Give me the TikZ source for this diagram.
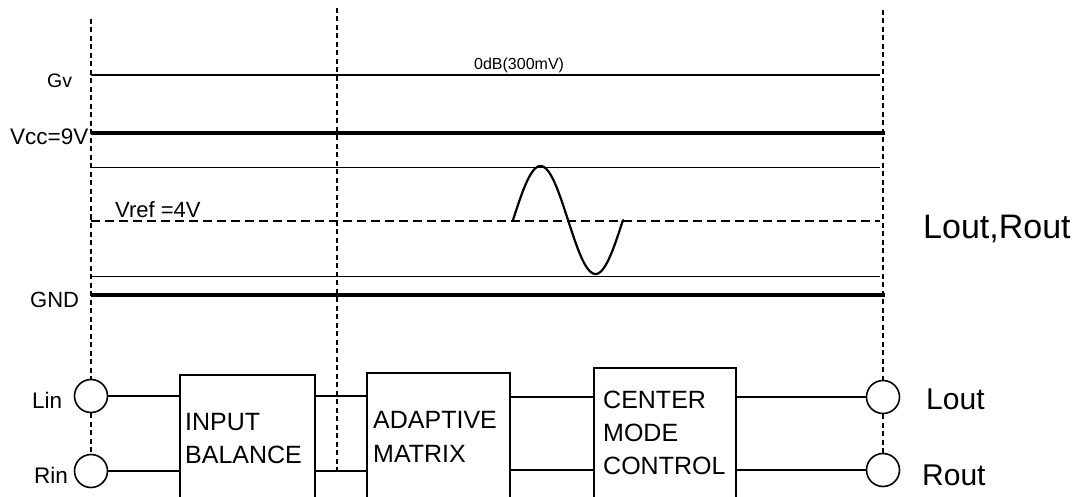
\documentclass[tikz,border=0pt]{standalone}
\usepackage{fontspec}
\setmainfont{Liberation Sans}
\begin{document}
\begin{tikzpicture}[x=1pt,y=-1pt,
  lbl/.style={inner sep=0pt,anchor=base west,font=\fontsize{#1}{#1}\selectfont},
  vdash/.style={line width=1.8pt,dash pattern=on 5pt off 3.5pt},
  hthin/.style={line width=1pt},
  hmid/.style={line width=1.8pt},
  hthick/.style={line width=3.8pt},
  hdash/.style={line width=1.6pt,dash pattern=on 9pt off 5pt},
  blk/.style={draw,line width=2pt,inner sep=0pt,anchor=north west},
  port/.style={draw,circle,line width=1.6pt,minimum size=33pt,inner sep=0pt,fill=white},
  wire/.style={line width=2pt},
  sine/.style={line width=2.2pt,line cap=round}]
\useasboundingbox (0,0) rectangle (1089,497);
\clip (0,0) rectangle (1089,497);
% vertical dashed guides
\coordinate (lt) at (91,19);
\coordinate (mt) at (337,8);
\coordinate (mb) at (337,472);
\coordinate (rt) at (883,10);
% ports
\node[port] (lin) at (91,396) {};
\node[port] (rin) at (91,471) {};
\node[port] (lout) at (883,397) {};
\node[port] (rout) at (883,470) {};
\draw[vdash] (lt) -- (lin.north);
\draw[vdash] (lin.south) -- (rin.north);
\draw[vdash] (mt) -- (mb);
\draw[vdash] (rt) -- (lout.north);
\draw[vdash] (lout.south) -- (rout.north);
% level lines
\draw[hmid] (91,75) -- (880,75);
\draw[hthick] (91,133) -- (885,133);
\draw[hthin] (91,168) -- (880,168);
\draw[hdash] (91,221) -- (880,221);
\draw[hthin] (91,276) -- (880,276);
\draw[hthick] (91,295) -- (885,295);
% sine
\draw[sine] plot[domain=0:110,samples=80,smooth] ({513+\x},{220-54*sin(\x/110*360)});
% level labels
\node[lbl=19.5] (gv) at (47,88) {Gv};
\node[lbl=22.5] (vcc) at (10,145) {Vcc=9V};
\node[lbl=22] (vref) at (115,217) {Vref =4V};
\node[lbl=22] (gnd) at (30,307) {GND};
\node[lbl=16] (odb) at (474,70) {0dB(300mV)};
\node[lbl=34] (lr) at (923,238) {Lout,Rout};
% blocks
\node[blk,minimum width=135pt,minimum height=150pt] (ib) at (179,374) {};
\node[blk,minimum width=143pt,minimum height=150pt] (am) at (366,372) {};
\node[blk,minimum width=142pt,minimum height=150pt] (cmc) at (593,367) {};
\node[lbl=25] (ibt1) at (185,430) {INPUT};
\node[lbl=25] (ibt2) at (185,463) {BALANCE};
\node[lbl=25] (amt1) at (373,428) {ADAPTIVE};
\node[lbl=25] (amt2) at (373,462) {MATRIX};
\node[lbl=25] (cmt1) at (603,408) {CENTER};
\node[lbl=25] (cmt2) at (603,441) {MODE};
\node[lbl=25] (cmt3) at (603,474) {CONTROL};
% port labels
\node[lbl=22.5] (linl) at (32,408) {Lin};
\node[lbl=22.5] (rinl) at (34,483) {Rin};
\node[lbl=30] (loutl) at (926,409) {Lout};
\node[lbl=30] (routl) at (922,485) {Rout};
% wires
\draw[wire] (lin.east) -- (ib.west |- lin.east);
\draw[wire] (rin.east) -- (ib.west |- rin.east);
\draw[wire] (ib.east |- lin.east) -- (am.west |- lin.east);
\draw[wire] (ib.east |- rin.east) -- (am.west |- rin.east);
\draw[wire] (am.east |- lout.west) -- (cmc.west |- lout.west);
\draw[wire] (am.east |- rout.west) -- (cmc.west |- rout.west);
\draw[wire] (cmc.east |- lout.west) -- (lout.west);
\draw[wire] (cmc.east |- rout.west) -- (rout.west);
\end{tikzpicture}
\end{document}
